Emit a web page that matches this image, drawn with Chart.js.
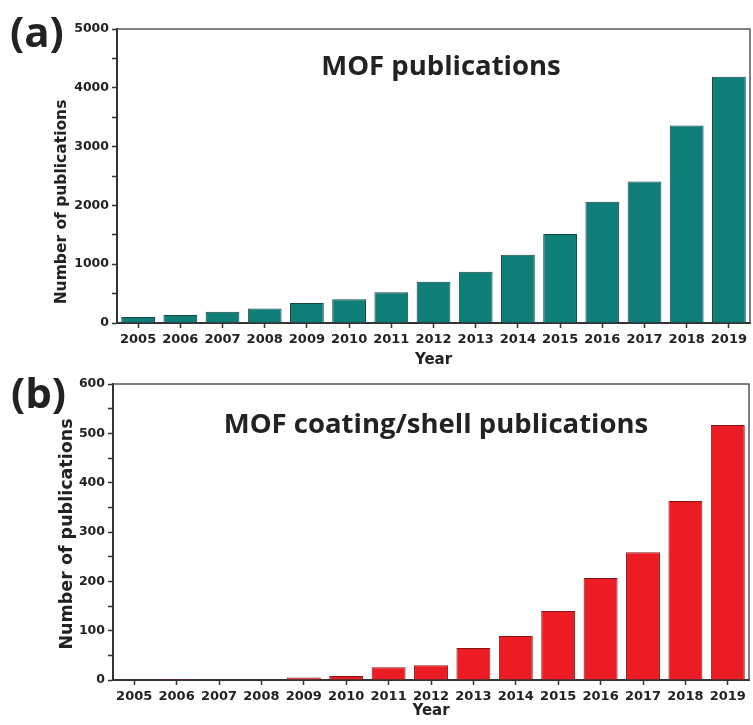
<!DOCTYPE html>
<html>
<head>
<meta charset="utf-8">
<script src="https://cdn.jsdelivr.net/npm/chart.js@4.4.1/dist/chart.umd.min.js"></script>
<style>
  html, body { margin: 0; padding: 0; background: #fff; }
  #wrap { position: relative; width: 753px; height: 725px; overflow: hidden; }
  .panel { position: absolute; left: 0; }
</style>
</head>
<body>
<div id="wrap">
  <div class="panel" style="top:0;width:753px;height:372px"><canvas id="chartA"></canvas></div>
  <div class="panel" style="top:352px;width:753px;height:373px"><canvas id="chartB"></canvas></div>
</div>
<script>
const years = ['2005', '2006', '2007', '2008', '2009', '2010', '2011', '2012',
               '2013', '2014', '2015', '2016', '2017', '2018', '2019'];
const mofPubs = [100, 135, 190, 245, 340, 405, 525, 700, 870, 1160, 1515, 2060, 2405, 3360, 4190];
const shellPubs = [0, 2, 1, 0, 5, 8, 26, 30, 65, 89, 140, 207, 259, 363, 517];

const ink = '#222';
const tickFont = { family: 'DejaVu Sans', weight: 'bold' };

// extra text (panel letter, inner title, y title) + top/right frame
const panelText = {
  id: 'panelText',
  afterDraw(chart, args, opts) {
    const { ctx, chartArea } = chart;
    ctx.save();
    ctx.strokeStyle = '#555';
    ctx.lineWidth = 1.5;
    ctx.beginPath();
    ctx.moveTo(chartArea.left, chartArea.top);
    ctx.lineTo(chartArea.right, chartArea.top);
    ctx.lineTo(chartArea.right, chartArea.bottom);
    ctx.stroke();
    ctx.fillStyle = ink;
    (opts.items || []).forEach(it => {
      ctx.save();
      ctx.font = it.font;
      ctx.textAlign = it.align || 'center';
      ctx.textBaseline = it.baseline || 'alphabetic';
      ctx.translate(it.x, it.y);
      if (it.rotate) ctx.rotate(it.rotate);
      ctx.fillText(it.text, 0, 0);
      ctx.restore();
    });
    ctx.restore();
  }
};

function makeChart(id, values, fill, border, yMax, yStep, layout, yWidth, xHeight, yearPad, items) {
  return new Chart(document.getElementById(id), {
    type: 'bar',
    data: {
      labels: years,
      datasets: [{
        data: values,
        backgroundColor: fill,
        borderColor: border,
        borderWidth: 1,
        categoryPercentage: 1,
        barPercentage: 0.8
      }]
    },
    options: {
      responsive: true,
      maintainAspectRatio: false,
      animation: false,
      layout: { padding: layout },
      plugins: {
        legend: { display: false },
        tooltip: { enabled: false },
        panelText: { items: items }
      },
      scales: {
        x: {
          afterFit(s) { s.height = xHeight; },
          grid: { offset: false, drawOnChartArea: false, tickLength: 5, tickColor: '#333', tickWidth: 1.5 },
          border: { color: '#333', width: 2 },
          ticks: { color: ink, font: Object.assign({ size: 13 }, tickFont), padding: 4, maxRotation: 0, autoSkip: false },
          title: { display: true, text: 'Year', color: ink, font: Object.assign({ size: 15 }, tickFont), padding: { top: 0, bottom: yearPad } }
        },
        y: {
          min: 0,
          max: yMax,
          afterFit(s) { s.width = yWidth; },
          grid: { drawOnChartArea: false, tickLength: 5, tickColor: '#333', tickWidth: 1.5 },
          border: { color: '#333', width: 2 },
          ticks: {
            stepSize: yStep / 2,
            color: ink,
            font: Object.assign({ size: 12.5 }, tickFont),
            padding: 3,
            callback: v => (v % yStep === 0 ? v : '')
          }
        }
      }
    },
    plugins: [panelText]
  });
}

makeChart('chartA', mofPubs, 'rgb(16,126,120)', 'rgb(20,70,66)', 5000, 1000,
  { left: 0, top: 29, right: 3, bottom: 0 }, 117, 49, 3, [
    { text: '(a)', x: 10, y: 47, align: 'left', font: 'bold 42px "Open Sans"' },
    { text: 'MOF publications', x: 441, y: 75, font: 'bold 27.5px "Open Sans"' },
    { text: 'Number of publications', x: 62, y: 202, rotate: -Math.PI / 2, baseline: 'middle', font: 'bold 15.5px "DejaVu Sans"' }
  ]);

makeChart('chartB', shellPubs, 'rgb(236,28,36)', 'rgb(130,20,20)', 600, 100,
  { left: 0, top: 32, right: 4, bottom: 0 }, 113, 45, 5, [
    { text: '(b)', x: 11, y: 56, align: 'left', font: 'bold 42px "Open Sans"' },
    { text: 'MOF coating/shell publications', x: 436, y: 81, font: 'bold 27.5px "Open Sans"' },
    { text: 'Number of publications', x: 67, y: 182, rotate: -Math.PI / 2, baseline: 'middle', font: 'bold 17.5px "DejaVu Sans"' }
  ]);
</script>
</body>
</html>
